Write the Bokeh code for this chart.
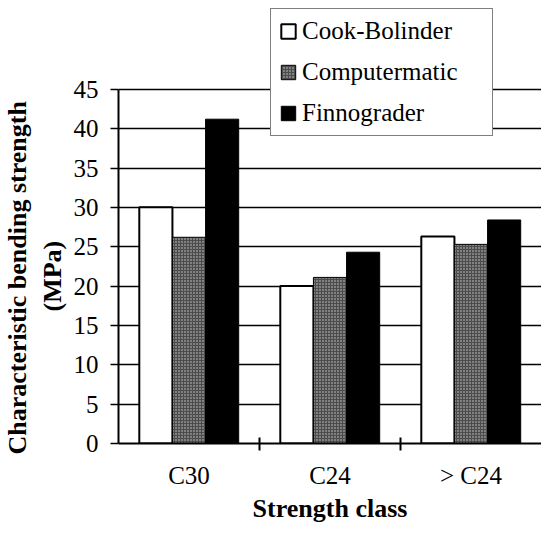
from bokeh.plotting import figure
from bokeh.models import ColumnDataSource, FixedTicker, Legend, LegendItem, Range1d, Title
from bokeh.transform import dodge
from bokeh.embed import file_html
from bokeh.resources import INLINE

classes = ["C30", "C24", "> C24"]
series_names = ["Cook-Bolinder", "Computermatic", "Finnograder"]
cook_bolinder = [30.0, 20.0, 26.3]
computermatic = [26.2, 21.1, 25.3]
finnograder = [41.2, 24.3, 28.4]
y_ticks = [0, 5, 10, 15, 20, 25, 30, 35, 40, 45]
y_label_line1 = "Characteristic bending strength"
y_label_line2 = "(MPa)"
x_label = "Strength class"

centers = [i + 0.5 for i in range(len(classes))]
bounds = [i for i in range(1, len(classes))]

source = ColumnDataSource(dict(x=centers, cb=cook_bolinder, cm=computermatic, fg=finnograder))

FONT = "Liberation Serif"

# headroom above 45 so the legend (which overlaps the area above the plot) is not clipped
p = figure(width=541, height=525, x_range=Range1d(0, len(classes)), y_range=Range1d(0, 56.28),
           output_backend="svg", toolbar_location=None,
           min_border_left=118, min_border_right=0, min_border_top=0, min_border_bottom=81)
p.outline_line_color = None
p.background_fill_color = "white"
p.border_fill_color = "white"

bw = 0.235
r1 = p.vbar(x=dodge("x", -bw, range=p.x_range), top="cb", width=bw, source=source,
            fill_color="white", line_color="black", line_width=2)
r2 = p.vbar(x=dodge("x", 0, range=p.x_range), top="cm", width=bw, source=source,
            fill_color="#4c4c4c", hatch_pattern=".", hatch_color="#d0d0d0", hatch_scale=3,
            hatch_weight=1, line_color="black", line_width=1)
r3 = p.vbar(x=dodge("x", bw, range=p.x_range), top="fg", width=bw, source=source,
            fill_color="black", line_color="black", line_width=1)

# x axis
p.xaxis.ticker = FixedTicker(ticks=centers, minor_ticks=bounds)
p.xaxis.major_label_overrides = {c: lab for c, lab in zip(centers, classes)}
p.xaxis.major_tick_line_color = None
p.xaxis.major_tick_out = 0
p.xaxis.major_tick_in = 0
p.xaxis.minor_tick_line_color = "black"
p.xaxis.minor_tick_line_width = 2
p.xaxis.minor_tick_out = 7
p.xaxis.minor_tick_in = 6
p.xaxis.axis_line_color = "black"
p.xaxis.axis_line_width = 2
p.xaxis.major_label_text_font = FONT
p.xaxis.major_label_text_font_size = "25px"
p.xaxis.major_label_text_color = "black"
p.xaxis.major_label_standoff = 11
p.xaxis.axis_label = x_label
p.xaxis.axis_label_text_font = FONT
p.xaxis.axis_label_text_font_style = "bold"
p.xaxis.axis_label_text_font_size = "26px"
p.xaxis.axis_label_text_color = "black"
p.xaxis.axis_label_standoff = 2

# y axis
p.yaxis.ticker = FixedTicker(ticks=y_ticks)
p.yaxis.bounds = (0, 45)
p.yaxis.minor_tick_line_color = None
p.yaxis.major_tick_out = 8
p.yaxis.major_tick_in = 0
p.yaxis.major_tick_line_color = "black"
p.yaxis.major_tick_line_width = 1.5
p.yaxis.axis_line_color = "black"
p.yaxis.axis_line_width = 2
p.yaxis.major_label_text_font = FONT
p.yaxis.major_label_text_font_size = "25px"
p.yaxis.major_label_text_color = "black"
p.yaxis.major_label_standoff = 12

# y axis title, two lines, placed in the left panel
t_mpa = Title(text=y_label_line2, align="left", offset=132, standoff=8, vertical_align="bottom",
              text_font=FONT, text_font_style="bold", text_font_size="26px", text_color="black")
t_char = Title(text=y_label_line1, align="left", offset=-11, standoff=0, vertical_align="bottom",
               text_font=FONT, text_font_style="bold", text_font_size="26px", text_color="black")
p.add_layout(t_mpa, "left")
p.add_layout(t_char, "left")

p.xgrid.grid_line_color = None
p.ygrid.ticker = FixedTicker(ticks=y_ticks)
p.ygrid.grid_line_color = "black"
p.ygrid.grid_line_width = 1.5

legend = Legend(items=[LegendItem(label=series_names[0], renderers=[r1]),
                       LegendItem(label=series_names[1], renderers=[r2]),
                       LegendItem(label=series_names[2], renderers=[r3])],
                location=(152, 307), margin=0, padding=8, spacing=13,
                glyph_width=18, glyph_height=18, label_standoff=5, label_width=182,
                label_text_font=FONT, label_text_font_size="25px", label_text_color="black",
                border_line_color="black", border_line_width=1.5,
                background_fill_color="white", background_fill_alpha=1.0)
p.add_layout(legend, "center")

open("out.html", "w").write(file_html(p, INLINE))
